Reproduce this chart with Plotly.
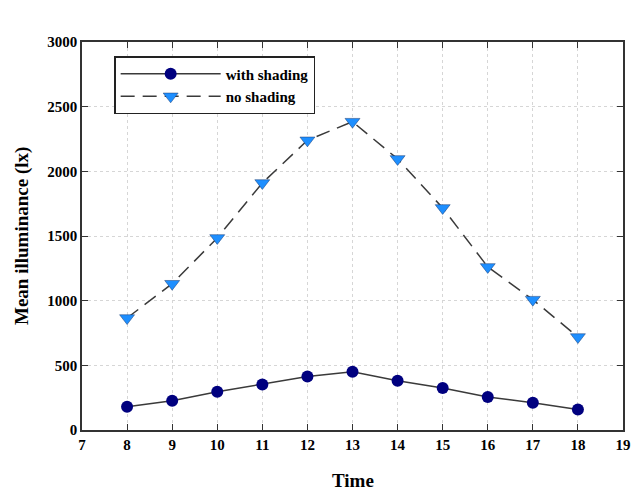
import plotly.graph_objects as go

# Hourly mean illuminance readings
hours = [8, 9, 10, 11, 12, 13, 14, 15, 16, 17, 18]
with_shading = [180, 227, 296, 352, 413, 450, 381, 325, 256, 211, 158]
no_shading = [866, 1131, 1485, 1910, 2240, 2384, 2096, 1717, 1261, 1008, 719]

x_ticks = list(range(7, 20))
y_ticks = list(range(0, 3001, 500))

font_family = "Liberation Serif"

fig = go.Figure()

fig.add_trace(go.Scatter(
    x=hours, y=with_shading, name="<b>with shading</b>",
    mode="lines+markers",
    line=dict(color="#3a3a3a", width=1.5),
    marker=dict(symbol="circle", size=12, color="#00007f",
                line=dict(color="#00007f", width=0)),
))

fig.add_trace(go.Scatter(
    x=hours, y=no_shading, name="<b>no shading</b>",
    mode="lines+markers",
    line=dict(color="#3a3a3a", width=1.5, dash="14px,8px"),
    marker=dict(symbol="triangle-down", size=13, color="#1e8fff",
                line=dict(color="#1a3a70", width=0.5)),
))

axis_common = dict(
    showline=True, linecolor="#333333", linewidth=1.5, mirror="ticks",
    ticks="inside", ticklen=6, tickcolor="#333333", tickwidth=1,
    showgrid=True, gridcolor="#d6d6d6", griddash="dot", gridwidth=1,
    zeroline=False, automargin=False,
    tickfont=dict(family=font_family, size=15, color="#000000"),
)

fig.update_xaxes(range=[7, 19], tickvals=x_ticks,
                 ticktext=[f"<b>{t}</b>" for t in x_ticks], **axis_common)
fig.update_yaxes(range=[0, 3000], tickvals=y_ticks,
                 ticktext=[f"<b>{t}</b>" for t in y_ticks], **axis_common)

# Axis titles placed in paper coordinates so the frame keeps its margins
title_font = dict(family=font_family, size=19, color="#000000")
fig.add_annotation(text="<b>Time</b>", xref="paper", yref="paper",
                   x=0.5, y=0, yshift=-50, yanchor="middle",
                   showarrow=False, font=title_font)
fig.add_annotation(text="<b>Mean illuminance (lx)</b>", xref="paper",
                   yref="paper", x=0, y=0.5, xshift=-60, xanchor="center",
                   textangle=-90, showarrow=False, font=title_font)

fig.update_layout(
    width=637, height=491,
    margin=dict(l=82, r=14, t=42, b=61),
    paper_bgcolor="white", plot_bgcolor="white",
    showlegend=True,
    legend=dict(
        x=0.06, y=0.963, xanchor="left", yanchor="top",
        bgcolor="white", bordercolor="#222222", borderwidth=1.2,
        font=dict(family=font_family, size=15, color="#000000"),
        itemwidth=100, tracegroupgap=0,
    ),
)

fig.write_html("out.html")
